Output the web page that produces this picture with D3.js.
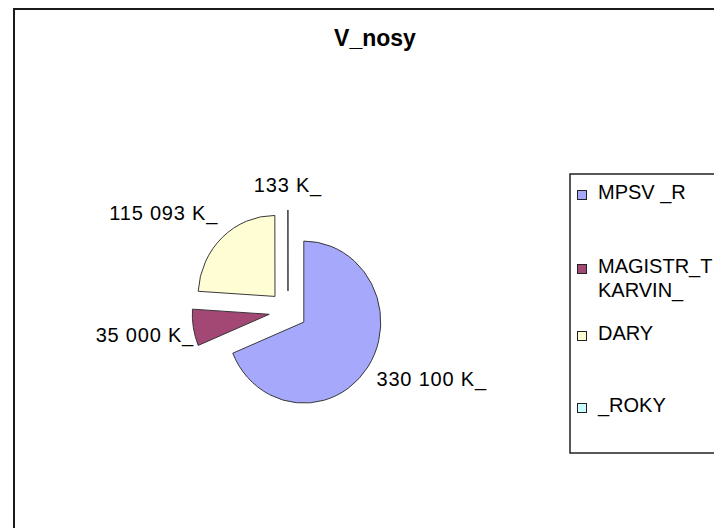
<!DOCTYPE html>
<html>
<head>
<meta charset="utf-8">
<script src="https://cdn.jsdelivr.net/npm/d3@7"></script>
<style>
  body { margin: 0; background: #fff; }
  text { font-family: "Liberation Sans", Arial, sans-serif; fill: #000; }
</style>
</head>
<body>
<script>
// chart data
var categories = ["MPSV _R", "MAGISTR_T KARVIN_", "DARY", "_ROKY"];
var values = [330100, 35000, 115093, 133];
var valueLabels = ["330 100 K_", "35 000 K_", "115 093 K_", "133 K_"];
var colors = ["#a6a9fb", "#a34874", "#fffdd3", "#ccffff"];
var title = "V_nosy";

// legend lines (magistrat wraps)
var legendLines = [["MPSV _R"], ["MAGISTR_T", "KARVIN_"], ["DARY"], ["_ROKY"]];
var legendBaselines = [199, 273, 340, 412];
// small hand nudges for the value labels
var labelNudge = [[0, 0], [11, 4], [3, -9], [0, -4]];

var width = 714, height = 528;
var cx = 288, cy = 311;
var radius = 81, explode = 20, labelR = 112, sx = 0.95;

var svg = d3.select("body").append("svg")
  .attr("width", width)
  .attr("height", height);

// outer chart frame
svg.append("rect")
  .attr("x", 14).attr("y", 9)
  .attr("width", 760).attr("height", 560)
  .attr("fill", "#fff")
  .attr("stroke", "#1a1a1a")
  .attr("stroke-width", 2);

svg.append("text")
  .attr("x", 375).attr("y", 46)
  .attr("text-anchor", "middle")
  .style("font-size", "23px")
  .style("font-weight", "bold")
  .text(title);

var pie = d3.pie().sort(null).value(function(d){ return d; });
var arcs = pie(values);

var arc = d3.arc().innerRadius(0).outerRadius(radius);

var g = svg.append("g")
  .attr("transform", "translate(" + cx + "," + cy + ") scale(" + sx + ",1)");

g.selectAll("path")
  .data(arcs)
  .enter().append("path")
  .attr("d", arc)
  .attr("transform", function(d){
    var a = (d.startAngle + d.endAngle) / 2;
    return "translate(" + (Math.sin(a) * explode) + "," + (-Math.cos(a) * explode) + ")";
  })
  .attr("fill", function(d, i){ return colors[i]; })
  .attr("stroke", "#333")
  .attr("stroke-width", 1);

// value labels
svg.selectAll(".vlabel")
  .data(arcs)
  .enter().append("text")
  .attr("class", "vlabel")
  .style("font-size", "20px")
  .style("letter-spacing", "0.8px")
  .attr("text-anchor", function(d){
    var s = Math.sin((d.startAngle + d.endAngle) / 2);
    return s > 0.1 ? "start" : (s < -0.1 ? "end" : "middle");
  })
  .attr("x", function(d, i){
    var a = (d.startAngle + d.endAngle) / 2;
    return cx + sx * labelR * Math.sin(a) + labelNudge[i][0];
  })
  .attr("y", function(d, i){
    var a = (d.startAngle + d.endAngle) / 2;
    var dy = -Math.cos(a);
    return cy + labelR * dy + dy * 10 + 7 + labelNudge[i][1];
  })
  .text(function(d, i){ return valueLabels[i]; });

// legend
var legend = svg.append("g");
legend.append("rect")
  .attr("x", 570).attr("y", 174)
  .attr("width", 200).attr("height", 279)
  .attr("fill", "#fff")
  .attr("stroke", "#222")
  .attr("stroke-width", 1.5);

categories.forEach(function(c, i){
  var base = legendBaselines[i];
  legend.append("rect")
    .attr("x", 577.5).attr("y", base - 8.5)
    .attr("width", 9).attr("height", 9)
    .attr("fill", colors[i])
    .attr("stroke", "#222")
    .attr("stroke-width", 1);
  legendLines[i].forEach(function(line, j){
    legend.append("text")
      .attr("x", 598)
      .attr("y", base + j * 24)
      .style("font-size", "20px")
      .text(line);
  });
});
</script>
</body>
</html>
